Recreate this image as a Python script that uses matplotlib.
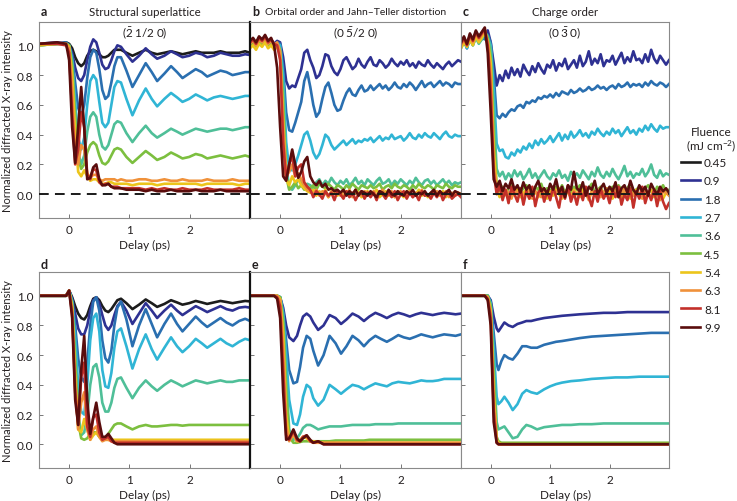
import matplotlib.pyplot as plt

plt.rcParams['font.family'] = ['Lato', 'DejaVu Sans']
plt.rcParams['mathtext.fontset'] = 'custom'
plt.rcParams['mathtext.rm'] = 'Lato'
plt.rcParams['mathtext.it'] = 'Lato:italic'

# fluences (mJ cm^-2) and line colours
fluence = ['0.45', '0.9', '1.8', '2.7', '3.6', '4.5', '5.4', '6.3', '8.1', '9.9']
colors = ['#1c1c1c', '#2e3192', '#2a6fb0', '#30b5d5', '#4fbf98',
          '#7cbf3f', '#ecc51b', '#f0913a', '#c3302a', '#5a0d0d']

# ---- delay grids (ps) ----
t_ad = [-0.5, -0.2, -0.05, 0.0,
        0.05, 0.1, 0.15, 0.2, 0.25, 0.3, 0.35, 0.4,
        0.45, 0.5, 0.55, 0.6, 0.65, 0.7, 0.75, 0.8,
        0.86, 0.95, 1.05, 1.16, 1.27, 1.37, 1.46, 1.58, 1.69, 1.79, 1.88,
        1.99, 2.1, 2.2, 2.29, 2.4, 2.51, 2.61, 2.71, 2.82, 2.92, 3.0]

t_bc = [-0.5, -0.45, -0.4, -0.35, -0.3, -0.25, -0.2, -0.15, -0.1, -0.05,
        0.0, 0.05, 0.1, 0.15, 0.2, 0.25, 0.3, 0.35, 0.4, 0.45,
        0.5, 0.55, 0.6, 0.65, 0.7, 0.75, 0.8, 0.85, 0.9, 0.95,
        1.0, 1.05, 1.1, 1.15, 1.2, 1.25, 1.3, 1.35, 1.4, 1.45,
        1.5, 1.55, 1.6, 1.65, 1.7, 1.75, 1.8, 1.85, 1.9, 1.95,
        2.0, 2.05, 2.1, 2.15, 2.2, 2.25, 2.3, 2.35, 2.4, 2.45,
        2.5, 2.55, 2.6, 2.65, 2.7, 2.75, 2.8, 2.85, 2.9, 2.95,
        3.0]

t_e = [-0.5, -0.1, -0.05, 0.0,
       0.05, 0.1, 0.15, 0.22, 0.28, 0.33, 0.38, 0.44, 0.5, 0.55,
       0.63, 0.72, 0.82, 0.92, 1.01, 1.1, 1.2, 1.3, 1.39, 1.48, 1.58, 1.67, 1.77,
       1.86, 1.96, 2.05, 2.15, 2.25, 2.34, 2.43, 2.53, 2.62, 2.72, 2.82, 2.91, 3.0]

t_f = [-0.5, -0.1, -0.05, 0.0,
       0.05, 0.1, 0.13, 0.18, 0.23, 0.3, 0.37, 0.45, 0.53, 0.6,
       0.68, 0.78, 0.9, 1.0, 1.1, 1.2, 1.35, 1.5,
       1.7, 1.9, 2.1, 2.3, 2.5, 2.7, 2.9, 3.0]

# ---- a: structural superlattice (measured), fluences 0.45..9.9 ----
a_curves = [
    [1.01, 1.01, 1.02, 1.01,
     0.98, 0.92, 0.88, 0.86, 0.88, 0.93, 0.96, 0.97,
     0.96, 0.94, 0.92, 0.92, 0.93, 0.95, 0.97, 0.97,
     0.97, 0.95, 0.93, 0.95, 0.97, 0.95, 0.94, 0.95, 0.96, 0.95, 0.94,
     0.95, 0.96, 0.95, 0.95, 0.95, 0.96, 0.95, 0.95, 0.95, 0.96, 0.95],
    [1.01, 1.02, 1.01, 1.0,
     0.95, 0.85, 0.78, 0.76, 0.8, 0.9, 0.99, 1.04,
     1.02, 0.95, 0.87, 0.84, 0.85, 0.9, 0.96, 1.0,
     0.99, 0.94, 0.89, 0.93, 0.98, 0.94, 0.91, 0.93, 0.96, 0.94, 0.92,
     0.93, 0.95, 0.94, 0.92, 0.93, 0.95, 0.94, 0.93, 0.93, 0.94, 0.935],
    [1.01, 1.01, 1.02, 1.0,
     0.93, 0.75, 0.58, 0.52, 0.6, 0.78, 0.92, 0.97,
     0.95, 0.84, 0.7, 0.64, 0.66, 0.75, 0.86, 0.92,
     0.92, 0.83, 0.72, 0.8, 0.88, 0.82, 0.76, 0.81, 0.86, 0.82, 0.78,
     0.81, 0.84, 0.82, 0.79, 0.81, 0.83, 0.82, 0.8, 0.81, 0.82, 0.82],
    [1.0, 1.01, 1.01, 1.0,
     0.9, 0.62, 0.38, 0.3, 0.38, 0.6, 0.76, 0.8,
     0.77, 0.62, 0.48, 0.45, 0.48, 0.6, 0.72, 0.76,
     0.75, 0.64, 0.53, 0.63, 0.71, 0.64, 0.59, 0.64, 0.68, 0.65, 0.62,
     0.64, 0.67, 0.65, 0.63, 0.65, 0.66, 0.65, 0.64, 0.65, 0.66, 0.66],
    [1.0, 1.01, 1.01, 1.0,
     0.88, 0.55, 0.28, 0.2, 0.26, 0.42, 0.52, 0.55,
     0.52, 0.4, 0.32, 0.3, 0.33, 0.4, 0.47, 0.49,
     0.48, 0.41, 0.35, 0.41, 0.46, 0.41, 0.38, 0.41, 0.44, 0.42, 0.4,
     0.42, 0.44, 0.43, 0.42, 0.43, 0.44, 0.44, 0.43, 0.44, 0.45, 0.45],
    [1.0, 1.01, 1.01, 1.0,
     0.86, 0.5, 0.24, 0.17, 0.2, 0.28, 0.33, 0.35,
     0.33, 0.26, 0.21, 0.2, 0.22, 0.26, 0.3, 0.31,
     0.3, 0.25, 0.21, 0.25, 0.29, 0.26, 0.23, 0.25, 0.28, 0.26, 0.24,
     0.25, 0.27, 0.26, 0.24, 0.25, 0.26, 0.25, 0.24, 0.25, 0.26, 0.25],
    [1.0, 1.01, 1.01, 0.99,
     0.8, 0.4, 0.15, 0.12, 0.16, 0.12, 0.09, 0.1,
     0.1, 0.08, 0.07, 0.07, 0.08, 0.08, 0.07, 0.07,
     0.07, 0.07, 0.06, 0.07, 0.07, 0.07, 0.06, 0.07, 0.07, 0.07, 0.07,
     0.07, 0.07, 0.06, 0.07, 0.07, 0.07, 0.07, 0.07, 0.06, 0.07, 0.07],
    [1.01, 1.01, 1.01, 0.98,
     0.7, 0.25, 0.2, 0.33, 0.3, 0.14, 0.11, 0.13,
     0.13, 0.1, 0.09, 0.1, 0.1, 0.1, 0.1, 0.09,
     0.1, 0.09, 0.09, 0.1, 0.1, 0.09, 0.09, 0.1, 0.09, 0.09, 0.1,
     0.09, 0.09, 0.09, 0.1, 0.09, 0.09, 0.09, 0.1, 0.09, 0.09, 0.09],
    [1.01, 1.01, 1.0, 0.95,
     0.55, 0.2, 0.3, 0.55, 0.45, 0.13, 0.1, 0.17,
     0.16, 0.08, 0.06, 0.07, 0.07, 0.05, 0.05, 0.05,
     0.04, 0.04, 0.04, 0.04, 0.03, 0.04, 0.03, 0.04, 0.03, 0.03, 0.04,
     0.03, 0.03, 0.03, 0.04, 0.03, 0.03, 0.03, 0.03, 0.04, 0.03, 0.03],
    [1.01, 1.02, 1.01, 0.9,
     0.45, 0.21, 0.45, 0.72, 0.45, 0.1, 0.11, 0.18,
     0.2, 0.1, 0.06, 0.06, 0.07, 0.05, 0.04, 0.04,
     0.04, 0.03, 0.03, 0.03, 0.02, 0.03, 0.02, 0.02, 0.03, 0.02, 0.02,
     0.02, 0.03, 0.02, 0.02, 0.02, 0.03, 0.02, 0.02, 0.02, 0.02, 0.02],
]

# ---- b: orbital order / Jahn-Teller (measured), fluences 0.9..9.9 ----
b_curves = [
    [1.02, 1.04, 1.01, 1.05, 1.03, 1.06, 1.02, 1.04, 1.01, 1.03,
     1.02, 0.92, 0.76, 0.71, 0.73, 0.72, 0.78, 0.84, 0.95, 0.97,
     0.9, 0.85, 0.78, 0.8, 0.86, 0.94, 0.93, 0.86, 0.82, 0.8,
     0.84, 0.9, 0.92, 0.88, 0.84, 0.86, 0.91, 0.87, 0.85, 0.89,
     0.92, 0.87, 0.86, 0.9, 0.88, 0.85, 0.87, 0.91, 0.88, 0.86,
     0.89, 0.87, 0.9, 0.86, 0.88, 0.85, 0.89, 0.87, 0.86, 0.9,
     0.87, 0.85, 0.88, 0.86, 0.84, 0.87, 0.89, 0.86, 0.88, 0.9,
     0.89],
    [1.01, 1.03, 1.0, 1.04, 1.02, 1.05, 1.01, 1.03, 1.0, 1.02,
     1.01, 0.85, 0.55, 0.43, 0.42, 0.48, 0.55, 0.62, 0.76, 0.82,
     0.72, 0.6, 0.52, 0.55, 0.64, 0.72, 0.75, 0.68, 0.6, 0.56,
     0.57, 0.63, 0.68, 0.71, 0.67, 0.66, 0.7, 0.73, 0.69, 0.7,
     0.73, 0.7, 0.72, 0.74, 0.71, 0.73, 0.7, 0.72, 0.75, 0.72,
     0.71, 0.74, 0.72, 0.75, 0.73, 0.7, 0.73, 0.76, 0.72, 0.74,
     0.75, 0.72, 0.74, 0.76, 0.73, 0.75, 0.74, 0.72, 0.75, 0.74,
     0.74],
    [1.0, 1.02, 1.0, 1.03, 1.01, 1.04, 1.0, 1.02, 0.99, 1.01,
     1.0, 0.8, 0.35, 0.17, 0.16, 0.2, 0.26, 0.33, 0.4, 0.42,
     0.36, 0.28, 0.24, 0.27, 0.33, 0.4, 0.38, 0.33, 0.3, 0.32,
     0.34, 0.36, 0.33, 0.35, 0.37, 0.34, 0.36, 0.35, 0.37, 0.36,
     0.38, 0.35, 0.37, 0.39, 0.36, 0.38, 0.37, 0.4, 0.37, 0.38,
     0.39, 0.36, 0.38, 0.41, 0.38, 0.37, 0.4, 0.38, 0.41, 0.39,
     0.38, 0.41, 0.39, 0.37, 0.4, 0.42, 0.39, 0.38, 0.4, 0.39,
     0.39],
    [1.0, 1.02, 0.99, 1.03, 1.01, 1.03, 1.0, 1.01, 0.99, 1.0,
     0.98, 0.7, 0.2, 0.04, 0.03, 0.06, 0.1, 0.08, 0.05, 0.07,
     0.06, 0.04, 0.08, 0.1, 0.06, 0.09, 0.07, 0.11, 0.08, 0.06,
     0.09, 0.07, 0.1, 0.06, 0.08, 0.11, 0.07, 0.09, 0.06, 0.1,
     0.08, 0.06, 0.09, 0.11, 0.07, 0.08, 0.1, 0.06, 0.09, 0.07,
     0.1, 0.08, 0.06, 0.09, 0.07, 0.11, 0.08, 0.06, 0.09, 0.1,
     0.07, 0.09, 0.06, 0.08, 0.1, 0.07, 0.09, 0.06, 0.08, 0.07,
     0.08],
    [0.99, 1.01, 1.0, 1.02, 1.0, 1.03, 0.99, 1.01, 1.0, 1.01,
     0.96, 0.6, 0.12, 0.03, 0.05, 0.08, 0.04, 0.06, 0.03, 0.05,
     0.04, 0.06, 0.03, 0.07, 0.05, 0.04, 0.07, 0.05, 0.03, 0.06,
     0.05, 0.03, 0.06, 0.04, 0.07, 0.05, 0.03, 0.06, 0.05, 0.04,
     0.06, 0.04, 0.05, 0.07, 0.03, 0.05, 0.06, 0.04, 0.07, 0.05,
     0.04, 0.06, 0.05, 0.03, 0.06, 0.04, 0.07, 0.05, 0.04, 0.06,
     0.05, 0.03, 0.06, 0.05, 0.04, 0.07, 0.05, 0.04, 0.06, 0.05,
     0.05],
    [0.98, 1.0, 0.97, 1.01, 0.99, 1.02, 0.98, 1.0, 0.97, 0.99,
     0.94, 0.5, 0.1, 0.06, 0.12, 0.08, 0.1, 0.06, 0.04, 0.02,
     0.01, 0.03, -0.01, 0.02, 0.0, 0.03, -0.02, 0.01, 0.02, -0.01,
     0.01, -0.02, 0.02, 0.0, -0.01, 0.03, 0.01, -0.02, 0.0, 0.02,
     -0.01, 0.01, 0.03, -0.02, 0.0, 0.02, -0.01, 0.01, -0.02, 0.02,
     0.0, -0.02, 0.02, 0.01, -0.01, 0.0, 0.03, -0.01, 0.01, -0.02,
     0.01, 0.02, -0.01, 0.0, 0.02, -0.02, 0.01, 0.0, -0.01, 0.01,
     0.0],
    [1.01, 1.03, 1.0, 1.04, 1.02, 1.05, 1.01, 1.03, 1.0, 1.02,
     0.96, 0.45, 0.12, 0.15, 0.2, 0.12, 0.14, 0.1, 0.06, 0.03,
     0.02, 0.0, 0.03, -0.01, 0.02, 0.01, -0.02, 0.02, 0.0, 0.01,
     -0.01, 0.02, 0.0, 0.03, -0.02, 0.01, 0.0, -0.01, 0.02, 0.01,
     0.0, 0.02, -0.01, 0.01, 0.03, -0.01, 0.0, 0.02, -0.02, 0.01,
     0.02, -0.01, 0.0, 0.02, -0.02, 0.01, 0.0, 0.03, -0.01, 0.0,
     -0.02, 0.01, 0.02, -0.01, 0.0, 0.02, -0.02, 0.01, 0.0, 0.01,
     0.0],
    [1.02, 1.04, 1.01, 1.05, 1.03, 1.06, 1.02, 1.04, 1.01, 1.0,
     0.9, 0.35, 0.1, 0.2, 0.26, 0.12, 0.18, 0.2, 0.08, 0.05,
     0.03, -0.02, 0.02, 0.0, -0.03, 0.02, -0.01, 0.01, -0.04, 0.02,
     0.0, -0.03, 0.02, -0.02, 0.01, -0.04, 0.0, 0.02, -0.03, 0.01,
     -0.02, 0.01, -0.04, 0.02, 0.0, -0.03, 0.01, -0.02, 0.02, -0.04,
     0.0, 0.02, -0.03, 0.01, -0.02, 0.0, -0.04, 0.02, -0.01, 0.0,
     -0.03, 0.01, -0.02, 0.02, -0.04, 0.0, 0.01, -0.03, -0.01, 0.0,
     -0.02],
    [1.03, 1.05, 1.02, 1.06, 1.04, 1.07, 1.03, 1.05, 1.0, 0.85,
     0.45, 0.12, 0.09, 0.2, 0.3, 0.2, 0.11, 0.15, 0.22, 0.25,
     0.12, 0.08, 0.06, 0.09, 0.05, 0.07, 0.03, 0.04, 0.02, 0.03,
     0.01, 0.03, -0.01, 0.02, 0.0, 0.03, -0.01, 0.02, 0.01, -0.01,
     0.02, 0.0, -0.02, 0.02, 0.01, -0.01, 0.03, 0.0, -0.01, 0.02,
     0.0, -0.01, 0.02, 0.0, 0.03, -0.01, 0.01, 0.0, 0.02, -0.01,
     0.01, 0.03, -0.01, 0.02, 0.0, 0.01, 0.03, -0.01, 0.02, 0.01,
     0.0],
]

# ---- c: charge order (measured), fluences 0.9..9.9 ----
c_curves = [
    [1.0, 1.04, 0.98, 1.05, 1.02, 1.07, 1.03, 1.08, 1.05, 1.1,
     1.02, 0.88, 0.73, 0.8, 0.76, 0.83, 0.78, 0.85, 0.8, 0.84,
     0.79, 0.87, 0.83, 0.8, 0.86, 0.82, 0.88, 0.84, 0.81, 0.87,
     0.85, 0.9, 0.83, 0.88, 0.86, 0.91, 0.84, 0.87, 0.9, 0.85,
     0.93, 0.86, 0.89, 0.96, 0.87, 0.91, 0.88, 0.94, 0.86, 0.9,
     0.89, 0.93, 0.87, 0.91, 0.95, 0.88, 0.92, 0.89, 0.96, 0.9,
     0.91, 0.88, 0.94, 0.89, 0.97, 0.91, 0.88, 0.93, 0.9, 0.87,
     0.9],
    [1.0, 1.03, 0.99, 1.04, 1.01, 1.06, 1.02, 1.05, 1.04, 1.07,
     1.02, 0.8, 0.53, 0.51, 0.54, 0.52, 0.55, 0.57, 0.56, 0.59,
     0.6, 0.58, 0.62, 0.61, 0.63, 0.62, 0.65, 0.64, 0.66, 0.65,
     0.67, 0.65, 0.68, 0.66, 0.69, 0.68, 0.67, 0.7, 0.68, 0.69,
     0.71, 0.69, 0.7, 0.72, 0.7, 0.71, 0.73, 0.71, 0.72, 0.7,
     0.72, 0.73, 0.71, 0.74, 0.72, 0.73, 0.75, 0.72, 0.74, 0.73,
     0.74, 0.72, 0.75, 0.73, 0.76, 0.74, 0.73, 0.75, 0.74, 0.72,
     0.74],
    [0.99, 1.03, 0.98, 1.05, 1.0, 1.06, 1.02, 1.04, 1.08, 1.05,
     1.0, 0.7, 0.34, 0.29, 0.3, 0.25, 0.24, 0.28, 0.26, 0.3,
     0.28, 0.32, 0.3, 0.34, 0.31, 0.36, 0.33, 0.37, 0.34, 0.36,
     0.39, 0.35, 0.38, 0.41, 0.36, 0.4, 0.37, 0.42, 0.38, 0.4,
     0.43, 0.39, 0.41, 0.38, 0.42, 0.4, 0.44, 0.41, 0.39, 0.42,
     0.4, 0.44, 0.41, 0.43, 0.39, 0.42, 0.45, 0.41, 0.43, 0.4,
     0.44, 0.42, 0.46, 0.43, 0.47, 0.44, 0.42, 0.46, 0.44, 0.45,
     0.45],
    [0.98, 1.02, 0.99, 1.04, 1.0, 1.05, 1.01, 1.04, 1.09, 1.06,
     0.98, 0.55, 0.17, 0.12, 0.15, 0.1, 0.14, 0.11, 0.16, 0.12,
     0.15, 0.1, 0.13, 0.17, 0.11, 0.14, 0.1, 0.13, 0.16, 0.12,
     0.1, 0.14, 0.12, 0.16, 0.11, 0.13, 0.09, 0.15, 0.12, 0.14,
     0.11, 0.16, 0.13, 0.1, 0.15, 0.12, 0.18, 0.13, 0.11, 0.15,
     0.12, 0.17, 0.13, 0.1, 0.14, 0.19, 0.12, 0.15, 0.11, 0.14,
     0.13, 0.17, 0.12, 0.15, 0.2, 0.13, 0.11, 0.16, 0.12, 0.14,
     0.13],
    [0.99, 1.03, 1.0, 1.05, 1.01, 1.07, 1.03, 1.06, 1.1, 1.04,
     0.92, 0.4, 0.06, 0.02, 0.05, 0.0, 0.04, 0.07, 0.02, 0.05,
     0.01, 0.04, 0.06, 0.02, 0.0, 0.05, 0.03, 0.07, 0.01, 0.04,
     0.03, 0.0, 0.05, 0.02, 0.06, 0.01, 0.04, 0.0, 0.05, 0.03,
     0.06, 0.02, 0.0, 0.04, 0.07, 0.01, 0.03, 0.05, 0.0, 0.04,
     0.02, 0.05, 0.01, 0.06, 0.03, 0.0, 0.04, 0.07, 0.02, 0.03,
     0.05, 0.01, 0.04, 0.06, 0.02, 0.0, 0.05, 0.03, 0.06, 0.02,
     0.03],
    [0.98, 1.02, 0.99, 1.04, 1.0, 1.06, 1.02, 1.05, 1.09, 1.03,
     0.88, 0.3, 0.04, -0.02, 0.03, 0.0, -0.03, 0.02, -0.01, 0.04,
     -0.02, 0.01, 0.03, -0.03, 0.0, 0.02, -0.02, 0.04, 0.0, -0.03,
     0.02, -0.01, 0.03, 0.0, -0.03, 0.02, 0.01, -0.02, 0.03, 0.0,
     -0.02, 0.03, 0.0, -0.03, 0.02, 0.01, -0.02, 0.04, 0.0, -0.01,
     0.02, -0.03, 0.01, 0.03, -0.02, 0.0, 0.02, -0.03, 0.01, 0.03,
     -0.01, 0.02, -0.03, 0.01, 0.03, -0.02, 0.0, 0.02, -0.03, 0.01,
     0.0],
    [1.0, 1.04, 1.01, 1.06, 1.02, 1.08, 1.04, 1.07, 1.1, 1.02,
     0.8, 0.2, 0.02, 0.05, -0.02, 0.03, 0.01, -0.03, 0.04, 0.0,
     0.03, -0.02, 0.01, 0.04, -0.03, 0.02, 0.0, -0.02, 0.03, 0.01,
     -0.03, 0.02, 0.0, 0.04, -0.02, 0.01, 0.03, -0.03, 0.02, 0.0,
     0.03, -0.02, 0.01, -0.04, 0.02, 0.0, 0.03, -0.02, 0.01, 0.04,
     -0.03, 0.01, 0.03, -0.02, 0.0, 0.04, -0.03, 0.02, -0.01, 0.02,
     0.0, -0.03, 0.02, 0.01, -0.02, 0.03, 0.0, -0.04, 0.02, 0.01,
     -0.01],
    [1.01, 1.05, 1.0, 1.07, 1.03, 1.09, 1.05, 1.08, 1.11, 1.0,
     0.7, 0.15, 0.0, 0.06, -0.04, 0.03, -0.06, 0.05, 0.0, -0.05,
     0.04, -0.07, 0.02, -0.03, 0.05, -0.08, 0.01, 0.04, -0.05, 0.02,
     -0.04, 0.05, -0.02, -0.09, 0.03, -0.03, 0.06, -0.05, 0.01, -0.07,
     0.03, -0.04, 0.05, -0.02, -0.08, 0.02, -0.05, 0.04, -0.03, 0.01,
     -0.06, 0.03, -0.02, 0.05, -0.07, 0.0, -0.04, 0.04, -0.09, 0.02,
     -0.03, 0.05, -0.06, 0.01, -0.04, 0.03, -0.08, 0.02, -0.05, -0.1,
     -0.06],
    [1.02, 1.06, 1.01, 1.08, 1.04, 1.1, 1.06, 1.09, 1.12, 0.95,
     0.55, 0.1, 0.05, 0.09, 0.02, 0.07, 0.04, 0.1, 0.03, 0.06,
     0.01, 0.08, 0.03, 0.06, -0.01, 0.05, 0.09, 0.02, 0.04, 0.0,
     0.07, 0.03, 0.1, 0.01, 0.05, -0.02, 0.06, 0.03, 0.15, 0.04,
     0.02, 0.08, -0.01, 0.05, 0.03, 0.09, 0.0, 0.04, 0.07, 0.01,
     0.05, 0.02, 0.08, -0.02, 0.04, 0.06, 0.01, 0.09, 0.03, 0.0,
     0.06, 0.02, 0.05, -0.01, 0.07, 0.03, 0.0, 0.05, 0.02, 0.04,
     0.01],
]

# ---- d: structural superlattice (model), fluences 0.45..9.9 ----
d_curves = [
    [1.0, 1.0, 1.0, 1.035,
     0.99, 0.93, 0.88, 0.85, 0.84, 0.87, 0.93, 0.98,
     0.99, 0.97, 0.93, 0.9, 0.89, 0.91, 0.94, 0.97,
     0.98, 0.95, 0.91, 0.94, 0.975, 0.95, 0.925, 0.945, 0.97, 0.955, 0.94,
     0.95, 0.965, 0.955, 0.945, 0.955, 0.965, 0.958, 0.95, 0.958, 0.965, 0.962],
    [1.0, 1.0, 1.0, 1.035,
     0.98, 0.88, 0.78, 0.74, 0.74, 0.8, 0.9, 0.97,
     0.99, 0.95, 0.87, 0.8, 0.77, 0.8, 0.87, 0.93,
     0.96, 0.9, 0.81, 0.88, 0.95, 0.9, 0.85, 0.9, 0.94, 0.9, 0.87,
     0.9, 0.93, 0.91, 0.89, 0.91, 0.93, 0.91, 0.9, 0.92, 0.925, 0.92],
    [1.0, 1.0, 1.0, 1.035,
     0.97, 0.8, 0.58, 0.45, 0.42, 0.55, 0.8, 0.96,
     0.99, 0.9, 0.7, 0.58, 0.55, 0.63, 0.8, 0.92,
     0.96, 0.84, 0.66, 0.8, 0.91, 0.81, 0.72, 0.81, 0.88, 0.81, 0.76,
     0.81, 0.86, 0.82, 0.79, 0.82, 0.85, 0.82, 0.8, 0.83, 0.845, 0.83],
    [1.0, 1.0, 1.0, 1.035,
     0.96, 0.72, 0.4, 0.22, 0.2, 0.4, 0.7, 0.85,
     0.88, 0.76, 0.5, 0.39, 0.38, 0.48, 0.65, 0.76,
     0.78, 0.66, 0.51, 0.64, 0.74, 0.64, 0.57, 0.65, 0.72, 0.66, 0.62,
     0.66, 0.71, 0.68, 0.65, 0.68, 0.71, 0.68, 0.66, 0.69, 0.71, 0.7],
    [1.0, 1.0, 1.0, 1.035,
     0.95, 0.62, 0.22, 0.06, 0.08, 0.2, 0.4, 0.52,
     0.54, 0.45, 0.28, 0.22, 0.22, 0.28, 0.38, 0.44,
     0.45, 0.38, 0.31, 0.38, 0.43, 0.39, 0.36, 0.4, 0.43, 0.41, 0.39,
     0.41, 0.43, 0.42, 0.41, 0.42, 0.43, 0.42, 0.42, 0.43, 0.43, 0.43],
    [1.0, 1.0, 1.0, 1.035,
     0.94, 0.55, 0.15, 0.04, 0.03, 0.04, 0.07, 0.08,
     0.08, 0.05, 0.03, 0.04, 0.07, 0.1, 0.13, 0.14,
     0.14, 0.12, 0.1, 0.12, 0.13, 0.12, 0.12, 0.125, 0.13, 0.13, 0.125,
     0.13, 0.13, 0.13, 0.13, 0.13, 0.13, 0.13, 0.13, 0.13, 0.13, 0.13],
    [1.0, 1.0, 1.0, 1.035,
     0.92, 0.45, 0.1, 0.08, 0.17, 0.1, 0.03, 0.06,
     0.08, 0.05, 0.03, 0.03, 0.03, 0.03, 0.03, 0.03,
     0.03, 0.03, 0.03, 0.03, 0.03, 0.03, 0.03, 0.03, 0.03, 0.03, 0.03,
     0.03, 0.03, 0.03, 0.03, 0.03, 0.03, 0.03, 0.03, 0.03, 0.03, 0.03],
    [1.0, 1.0, 1.0, 1.035,
     0.9, 0.4, 0.1, 0.28, 0.35, 0.1, 0.03, 0.1,
     0.12, 0.05, 0.02, 0.03, 0.03, 0.02, 0.02, 0.02,
     0.02, 0.02, 0.02, 0.02, 0.02, 0.02, 0.02, 0.02, 0.02, 0.02, 0.02,
     0.02, 0.02, 0.02, 0.02, 0.02, 0.02, 0.02, 0.02, 0.02, 0.02, 0.02],
    [1.0, 1.0, 1.0, 1.035,
     0.88, 0.35, 0.13, 0.45, 0.55, 0.12, 0.05, 0.18,
     0.2, 0.08, 0.03, 0.04, 0.05, 0.02, 0.01, 0.01,
     0.01, 0.01, 0.01, 0.01, 0.01, 0.01, 0.01, 0.01, 0.01, 0.01, 0.01,
     0.01, 0.01, 0.01, 0.01, 0.01, 0.01, 0.01, 0.01, 0.01, 0.01, 0.01],
    [1.0, 1.0, 1.0, 1.035,
     0.85, 0.3, 0.13, 0.5, 0.73, 0.3, 0.07, 0.18,
     0.28, 0.15, 0.05, 0.05, 0.07, 0.04, 0.01, 0.0,
     0.0, 0.0, 0.0, 0.0, 0.0, 0.0, 0.0, 0.0, 0.0, 0.0, 0.0,
     0.0, 0.0, 0.0, 0.0, 0.0, 0.0, 0.0, 0.0, 0.0, 0.0, 0.0],
]

# ---- e: orbital order (model), fluences 0.9..9.9 ----
e_curves = [
    [1.0, 1.0, 1.0, 0.99,
     0.92, 0.8, 0.72, 0.695, 0.73, 0.8, 0.86, 0.88, 0.86, 0.82,
     0.77, 0.8, 0.87, 0.85, 0.81, 0.84, 0.88, 0.86, 0.83, 0.86, 0.885, 0.87, 0.85,
     0.87, 0.885, 0.875, 0.86, 0.875, 0.885, 0.878, 0.87, 0.878, 0.885, 0.88, 0.875, 0.88],
    [1.0, 1.0, 1.0, 0.99,
     0.9, 0.7, 0.5, 0.41, 0.42, 0.52, 0.65, 0.73, 0.71, 0.63,
     0.53, 0.6, 0.73, 0.68, 0.61, 0.66, 0.73, 0.7, 0.66, 0.7, 0.73, 0.71, 0.69,
     0.71, 0.735, 0.72, 0.71, 0.725, 0.74, 0.73, 0.72, 0.73, 0.74, 0.735, 0.73, 0.74],
    [1.0, 1.0, 1.0, 0.99,
     0.88, 0.6, 0.3, 0.14, 0.13, 0.2, 0.32, 0.4, 0.38, 0.31,
     0.26, 0.3, 0.4, 0.37, 0.34, 0.37, 0.4, 0.39, 0.37, 0.39, 0.41, 0.4, 0.39,
     0.41, 0.42, 0.415, 0.41, 0.42, 0.43, 0.425, 0.425, 0.43, 0.44, 0.44, 0.44, 0.44],
    [1.0, 1.0, 1.0, 0.99,
     0.85, 0.45, 0.1, 0.03, 0.04, 0.07, 0.11, 0.13, 0.13, 0.12,
     0.1, 0.11, 0.12, 0.12, 0.12, 0.125, 0.13, 0.13, 0.13, 0.13, 0.135, 0.135, 0.135,
     0.135, 0.14, 0.14, 0.14, 0.14, 0.14, 0.14, 0.14, 0.14, 0.14, 0.14, 0.14, 0.14],
    [1.0, 1.0, 1.0, 0.99,
     0.82, 0.35, 0.05, 0.01, 0.01, 0.015, 0.02, 0.02, 0.02, 0.02,
     0.02, 0.02, 0.02, 0.025, 0.025, 0.025, 0.025, 0.025, 0.025, 0.03, 0.03, 0.03, 0.03,
     0.03, 0.03, 0.03, 0.03, 0.03, 0.03, 0.03, 0.03, 0.03, 0.03, 0.03, 0.03, 0.03],
    [1.0, 1.0, 1.0, 0.98,
     0.75, 0.2, 0.03, 0.06, 0.02, 0.03, 0.05, 0.04, 0.02, 0.02,
     0.015, 0.01, 0.01, 0.01, 0.01, 0.01, 0.01, 0.01, 0.01, 0.01, 0.01, 0.01, 0.01,
     0.01, 0.01, 0.01, 0.01, 0.01, 0.01, 0.01, 0.01, 0.01, 0.01, 0.01, 0.01, 0.01],
    [1.0, 1.0, 1.0, 0.97,
     0.65, 0.12, 0.02, 0.07, 0.02, 0.02, 0.05, 0.05, 0.02, 0.01,
     0.01, 0.01, 0.01, 0.01, 0.01, 0.01, 0.01, 0.01, 0.01, 0.01, 0.01, 0.01, 0.01,
     0.01, 0.01, 0.01, 0.01, 0.01, 0.01, 0.01, 0.01, 0.01, 0.01, 0.01, 0.01, 0.01],
    [1.0, 1.0, 0.99, 0.93,
     0.5, 0.06, 0.03, 0.09, 0.03, 0.02, 0.05, 0.06, 0.02, 0.01,
     0.02, 0.0, 0.0, 0.0, 0.0, 0.0, 0.0, 0.0, 0.0, 0.0, 0.0, 0.0, 0.0,
     0.0, 0.0, 0.0, 0.0, 0.0, 0.0, 0.0, 0.0, 0.0, 0.0, 0.0, 0.0, 0.0],
    [1.0, 1.0, 0.98, 0.85,
     0.35, 0.03, 0.04, 0.1, 0.04, 0.02, 0.04, 0.06, 0.03, 0.01,
     0.02, 0.0, 0.0, 0.0, 0.0, 0.0, 0.0, 0.0, 0.0, 0.0, 0.0, 0.0, 0.0,
     0.0, 0.0, 0.0, 0.0, 0.0, 0.0, 0.0, 0.0, 0.0, 0.0, 0.0, 0.0, 0.0],
]

# ---- f: charge order (model), fluences 0.9..9.9 ----
f_curves = [
    [1.0, 1.0, 1.0, 0.97,
     0.86, 0.78, 0.76, 0.79, 0.82, 0.8, 0.79, 0.81, 0.82, 0.83,
     0.83, 0.84, 0.85, 0.855, 0.86, 0.865, 0.87, 0.875,
     0.88, 0.885, 0.885, 0.89, 0.89, 0.89, 0.89, 0.89],
    [1.0, 1.0, 1.0, 0.96,
     0.75, 0.54, 0.5, 0.56, 0.6, 0.58, 0.57, 0.61, 0.66, 0.66,
     0.65, 0.65, 0.67, 0.68, 0.69, 0.695, 0.705, 0.715,
     0.725, 0.73, 0.735, 0.74, 0.745, 0.75, 0.75, 0.75],
    [1.0, 1.0, 1.0, 0.95,
     0.65, 0.32, 0.27, 0.29, 0.32, 0.28, 0.23, 0.27, 0.34, 0.365,
     0.35, 0.34, 0.37, 0.39, 0.405, 0.415, 0.425, 0.43,
     0.44, 0.445, 0.45, 0.45, 0.455, 0.455, 0.455, 0.455],
    [1.0, 1.0, 1.0, 0.94,
     0.55, 0.15, 0.1, 0.11, 0.12, 0.08, 0.04, 0.05, 0.1, 0.13,
     0.12, 0.1, 0.115, 0.12, 0.125, 0.13, 0.13, 0.135,
     0.135, 0.14, 0.14, 0.14, 0.14, 0.14, 0.14, 0.14],
    [1.0, 1.0, 1.0, 0.93,
     0.45, 0.05, 0.02, 0.01, 0.01, 0.01, 0.01, 0.01, 0.01, 0.01,
     0.01, 0.01, 0.01, 0.01, 0.01, 0.01, 0.01, 0.01,
     0.01, 0.01, 0.01, 0.01, 0.01, 0.01, 0.01, 0.01],
    [1.0, 1.0, 0.99, 0.9,
     0.35, 0.03, 0.01, 0.0, 0.0, 0.0, 0.0, 0.0, 0.0, 0.0,
     0.0, 0.0, 0.0, 0.0, 0.0, 0.0, 0.0, 0.0,
     0.0, 0.0, 0.0, 0.0, 0.0, 0.0, 0.0, 0.0],
    [1.0, 1.0, 0.99, 0.88,
     0.3, 0.02, 0.0, 0.0, 0.0, 0.0, 0.0, 0.0, 0.0, 0.0,
     0.0, 0.0, 0.0, 0.0, 0.0, 0.0, 0.0, 0.0,
     0.0, 0.0, 0.0, 0.0, 0.0, 0.0, 0.0, 0.0],
    [1.0, 1.0, 0.98, 0.85,
     0.22, 0.01, 0.0, 0.0, 0.0, 0.0, 0.0, 0.0, 0.0, 0.0,
     0.0, 0.0, 0.0, 0.0, 0.0, 0.0, 0.0, 0.0,
     0.0, 0.0, 0.0, 0.0, 0.0, 0.0, 0.0, 0.0],
    [1.0, 1.0, 0.97, 0.8,
     0.15, 0.01, 0.0, 0.0, 0.0, 0.0, 0.0, 0.0, 0.0, 0.0,
     0.0, 0.0, 0.0, 0.0, 0.0, 0.0, 0.0, 0.0,
     0.0, 0.0, 0.0, 0.0, 0.0, 0.0, 0.0, 0.0],
]

titles = ['Structural superlattice', 'Orbital order and Jahn\u2013Teller distortion', 'Charge order']
title_sizes = [8.3, 7.5, 8.3]
reflections = [r'$\mathrm{(\bar{2}\;1/2\;0)}$', r'$\mathrm{(0\;\bar{5}/2\;0)}$', r'$\mathrm{(0\;\bar{3}\;0)}$']
letters = ['a', 'b', 'c', 'd', 'e', 'f']

W, H = 737.0, 502.0
fig = plt.figure(figsize=(7.37, 5.02), dpi=100)


def box(x0, x1, y0, y1):
    return [x0 / W, 1 - y1 / H, (x1 - x0) / W, (y1 - y0) / H]


cols = [(39, 250), (250, 461), (461, 669)]
rows = [(22.5, 219), (273, 469)]
panel_data = [(t_ad, a_curves, 0), (t_bc, b_curves, 1), (t_bc, c_curves, 1),
              (t_ad, d_curves, 0), (t_e, e_curves, 1), (t_f, f_curves, 1)]

text_col = '#231f20'
axes = []
for k, (t, curves, first) in enumerate(panel_data):
    r, c = divmod(k, 3)
    ax = fig.add_axes(box(cols[c][0], cols[c][1], rows[r][0], rows[r][1]))
    axes.append(ax)
    for i, y in enumerate(curves):
        if len(y) != len(t):
            raise ValueError(f'panel {letters[k]} curve {i}: {len(y)} vs {len(t)}')
        ax.plot(t, y, color=colors[first + i], lw=1.9, solid_joinstyle='round',
                label=fluence[first + i], zorder=2 + i * 0.01)
    if r == 0:
        ax.axhline(0, color='#1a1a1a', lw=1.4, dashes=(5, 3.2), zorder=4)
    ax.set_xlim(-0.5, 3.0)
    ax.set_ylim(-0.16, 1.16)
    ax.set_xticks([0, 1, 2])
    ax.set_yticks([0.0, 0.2, 0.4, 0.6, 0.8, 1.0])
    ax.set_yticklabels(['0.0', '0.2', '0.4', '0.6', '0.8', '1.0'])
    ax.tick_params(direction='in', length=3, width=0.7, color='#777777',
                   labelsize=8.5, labelcolor=text_col, pad=4)
    if c > 0:
        ax.tick_params(labelleft=False)
    for s in ax.spines.values():
        s.set_color('#8a8a8a')
        s.set_linewidth(0.8)
    if c == 1:
        ax.spines['left'].set_color('#111111')
        ax.spines['left'].set_linewidth(1.6)
    ax.set_xlabel('Delay (ps)', fontsize=8.5, color=text_col, labelpad=3)
    hpx = rows[r][1] - rows[r][0]
    ax.text(0.01, 1 + (10.5 if r == 0 else 8) / hpx, letters[k], transform=ax.transAxes,
            fontsize=9, fontweight='bold', ha='left', va='center', color=text_col)
    if r == 0:
        ax.text(0.5, 1 + 10.5 / hpx, titles[c], transform=ax.transAxes,
                fontsize=title_sizes[c], ha='center', va='center', color=text_col)
        ax.text(0.5, 1 - 10.5 / hpx, reflections[c], transform=ax.transAxes,
                fontsize=8.5, ha='center', va='center', color=text_col)
    if c == 0:
        ax.set_ylabel('Normalized diffracted X-ray intensity', fontsize=8, color=text_col)
        ax.yaxis.set_label_coords(-0.125, 0.5)

handles, labels = axes[0].get_legend_handles_labels()
leg = fig.legend(handles, labels, loc='upper left', bbox_to_anchor=(681 / W, 1 - 158 / H),
                 frameon=False, fontsize=8.5, handlelength=1.6, handletextpad=0.35,
                 labelspacing=0.62, borderpad=0, borderaxespad=0)
for txt in leg.get_texts():
    txt.set_color(text_col)
fig.text(711 / W, 1 - 133 / H, 'Fluence', fontsize=8.5, ha='center', va='center', color=text_col)
fig.text(711 / W, 1 - 146 / H, '(mJ cm$^{-2}$)', fontsize=8.5, ha='center', va='center',
         color=text_col)

fig.savefig('out.png', dpi=100)
